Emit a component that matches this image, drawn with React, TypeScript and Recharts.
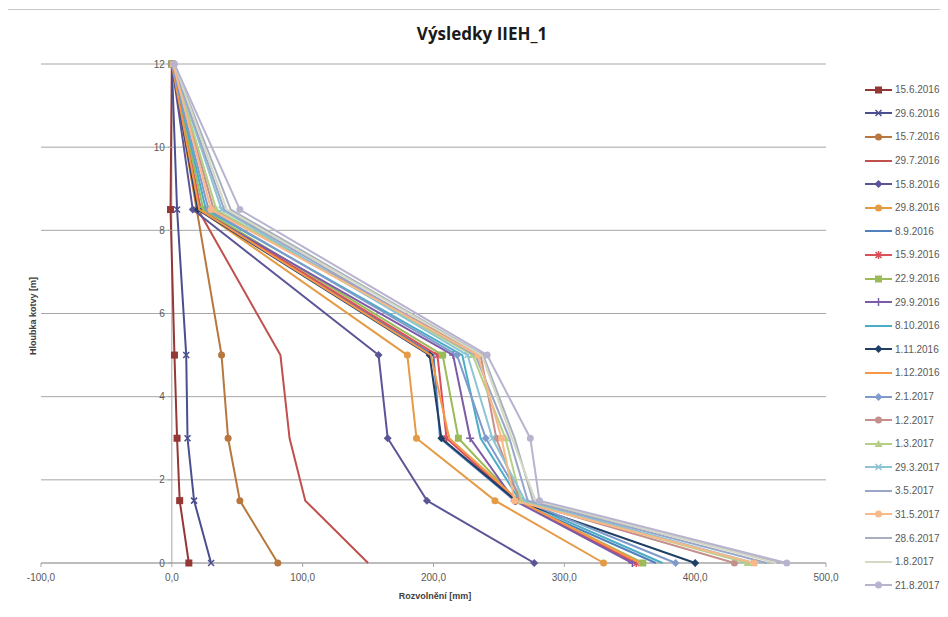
import { CartesianGrid, ReferenceLine, Scatter, ScatterChart, XAxis, YAxis } from "recharts";

// depth of the measuring points [m]
const depths = [12, 8.5, 5, 3, 1.5, 0];

const dates = [
  "15.6.2016", "29.6.2016", "15.7.2016", "29.7.2016", "15.8.2016", "29.8.2016",
  "8.9.2016", "15.9.2016", "22.9.2016", "29.9.2016", "8.10.2016", "1.11.2016",
  "1.12.2016", "2.1.2017", "1.2.2017", "1.3.2017", "29.3.2017", "3.5.2017",
  "31.5.2017", "28.6.2017", "1.8.2017", "21.8.2017",
];

// Rozvolnění [mm] per depth (same order as depths)
const m150616 = [0, -1, 2, 4, 6, 13];
const m290616 = [0, 4, 11, 12, 17, 30];
const m150716 = [0, 19, 38, 43, 52, 81];
const m290716 = [0, 20, 83, 90, 102, 150];
const m150816 = [0, 16, 158, 165, 195, 277];
const m290816 = [0, 21, 180, 187, 247, 330];
const m080916 = [0, 22, 200, 205, 262, 370];
const m150916 = [0, 22, 203, 210, 263, 355];
const m220916 = [0, 24, 207, 219, 264, 360];
const m290916 = [0, 20, 215, 228, 262, 352];
const m081016 = [0, 26, 222, 236, 266, 375];
const m011116 = [0, 20, 197, 206, 263, 400];
const m011216 = [0, 21, 198, 212, 265, 358];
const m020117 = [0, 28, 218, 240, 268, 385];
const m010217 = [1, 32, 236, 248, 266, 430];
const m010317 = [1, 34, 230, 255, 267, 440];
const m290317 = [1, 38, 226, 245, 270, 445];
const m030517 = [1, 40, 232, 258, 272, 455];
const m310517 = [1, 30, 234, 252, 262, 445];
const m280617 = [2, 45, 238, 262, 276, 465];
const m010817 = [2, 42, 237, 260, 278, 462];
const m210817 = [2, 52, 241, 274, 281, 470];

const seriesValues = [
  m150616, m290616, m150716, m290716, m150816, m290816, m080916, m150916,
  m220916, m290916, m081016, m011116, m011216, m020117, m010217, m010317,
  m290317, m030517, m310517, m280617, m010817, m210817,
];

const xTicks = [-100, 0, 100, 200, 300, 400, 500];
const yTicks = [0, 2, 4, 6, 8, 10, 12];

const colors = [
  "#953735", "#4B4F8F", "#B7773E", "#C0504D", "#5A5597", "#E59B45",
  "#4F81BD", "#D9505A", "#9BBB59", "#7E5BA6", "#4BACC6", "#1F3F66",
  "#F79646", "#7F9BCB", "#C5908C", "#B6CF86", "#8CC4D4", "#9AA6C8",
  "#F8B888", "#A8B0C0", "#D5D9C4", "#B8B4CF",
];

const markers = [
  "square", "x", "circle", "none", "diamond", "circle",
  "none", "star", "square", "plus", "none", "diamond",
  "none", "diamond", "circle", "triangle", "x", "none",
  "circle", "none", "none", "circle",
];

const W = 850;
const H = 609;
const M = { top: 56, right: 32, left: 32, bottom: 24 };
const Y_AXIS_W = 1;
const plotW = W - M.left - M.right - Y_AXIS_W;
const zeroX = M.left + Y_AXIS_W + (plotW * (0 - xTicks[0])) / (xTicks[xTicks.length - 1] - xTicks[0]);

const font = "'Liberation Sans', Arial, sans-serif";
const txt = "#595959";
const grid = "#a6a6a6";

function Marker({ kind, cx, cy, color }: { kind: string; cx: number; cy: number; color: string }) {
  switch (kind) {
    case "square":
      return <rect x={cx - 3.5} y={cy - 3.5} width={7} height={7} fill={color} />;
    case "circle":
      return <circle cx={cx} cy={cy} r={3.5} fill={color} />;
    case "diamond":
      return <polygon points={`${cx},${cy - 4} ${cx + 4},${cy} ${cx},${cy + 4} ${cx - 4},${cy}`} fill={color} />;
    case "triangle":
      return <polygon points={`${cx},${cy - 4} ${cx + 4},${cy + 3} ${cx - 4},${cy + 3}`} fill={color} />;
    case "x":
      return (
        <path d={`M${cx - 3},${cy - 3}L${cx + 3},${cy + 3}M${cx - 3},${cy + 3}L${cx + 3},${cy - 3}`}
          stroke={color} strokeWidth={1.5} fill="none" />
      );
    case "star":
      return (
        <path d={`M${cx - 3},${cy - 3}L${cx + 3},${cy + 3}M${cx - 3},${cy + 3}L${cx + 3},${cy - 3}M${cx},${cy - 4}L${cx},${cy + 4}`}
          stroke={color} strokeWidth={1.5} fill="none" />
      );
    case "plus":
      return (
        <path d={`M${cx - 4},${cy}L${cx + 4},${cy}M${cx},${cy - 4}L${cx},${cy + 4}`}
          stroke={color} strokeWidth={1.5} fill="none" />
      );
    default:
      return <g />;
  }
}

const YTick = (p: any) => (
  <g>
    <line x1={zeroX - 4} x2={zeroX} y1={p.y} y2={p.y} stroke={grid} />
    <text x={zeroX - 7} y={p.y} dy={3.5} textAnchor="end" fontSize={10} fill={txt} fontFamily={font}>
      {p.payload.value}
    </text>
  </g>
);

export default function App() {
  return (
    <div style={{ position: "relative", width: 940, height: 609, fontFamily: font }}>
      <div
        style={{
          position: "absolute", left: -1, top: 1, width: 960, height: 640,
          borderLeft: "1px solid #c8c8c8", borderTop: "1px solid #c8c8c8",
        }}
      />
      <div
        style={{
          position: "absolute", left: 274, width: 400, top: 14, textAlign: "center",
          fontFamily: "'Open Sans', sans-serif", fontWeight: 700, fontSize: 17, color: "#1a1a1a",
        }}
      >
        Výsledky IIEH_1
      </div>
      <div style={{ position: "absolute", left: 0, top: 0 }}>
        <ScatterChart width={W} height={H} margin={M}>
          <CartesianGrid horizontal vertical={false} stroke={grid} />
          <XAxis
            type="number"
            dataKey="x"
            domain={[xTicks[0], xTicks[xTicks.length - 1]]}
            ticks={xTicks}
            allowDataOverflow
            tickFormatter={(v: number) => v.toFixed(1).replace(".", ",")}
            tick={{ fill: txt, fontSize: 10, fontFamily: font }}
            axisLine={{ stroke: grid }}
            tickLine={{ stroke: grid }}
            tickSize={4}
            tickMargin={7}
            height={30}
          />
          <YAxis
            type="number"
            dataKey="y"
            domain={[0, 12]}
            ticks={yTicks}
            width={Y_AXIS_W}
            axisLine={false}
            tickLine={false}
            tick={YTick}
          />
          <ReferenceLine x={0} stroke={grid} />
          {seriesValues.map((vals, i) => (
            <Scatter
              key={dates[i]}
              name={dates[i]}
              data={depths.map((d, j) => ({ x: vals[j], y: d }))}
              line={{ stroke: colors[i], strokeWidth: 2 }}
              lineType="joint"
              fill={colors[i]}
              isAnimationActive={false}
              shape={(p: any) => <Marker kind={markers[i]} cx={p.cx} cy={p.cy} color={colors[i]} />}
            />
          ))}
        </ScatterChart>
      </div>
      <div
        style={{
          position: "absolute", left: 382, top: 583, width: 90, textAlign: "center",
          fontWeight: 700, fontSize: 9, color: "#404040",
        }}
      >
        Rozvolnění [mm]
      </div>
      <div
        style={{
          position: "absolute", left: 25 - 60, top: 311 - 8, width: 120, textAlign: "center",
          fontWeight: 700, fontSize: 9, color: "#404040", transform: "rotate(-90deg)",
        }}
      >
        Hloubka kotvy [m]
      </div>
      <div style={{ position: "absolute", left: 856, top: 70 }}>
        {dates.map((d, i) => (
          <div key={d} style={{ display: "flex", alignItems: "center", height: 23.6 }}>
            <svg width={30} height={10}>
              <line x1={1} x2={28} y1={5} y2={5} stroke={colors[i]} strokeWidth={2} />
              <Marker kind={markers[i]} cx={14.5} cy={5} color={colors[i]} />
            </svg>
            <span style={{ fontSize: 10, color: txt, marginLeft: 1 }}>{d}</span>
          </div>
        ))}
      </div>
    </div>
  );
}
